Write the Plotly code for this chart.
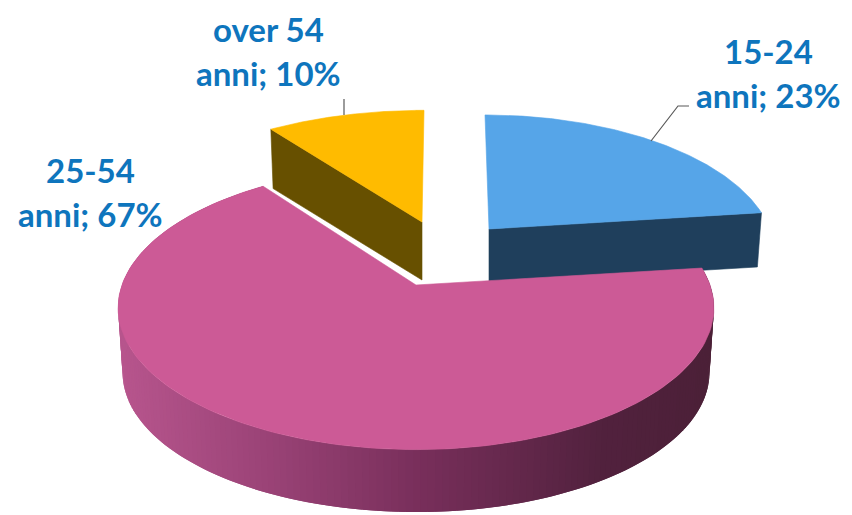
import numpy as np
import plotly.graph_objects as go

categories = ["15-24 anni", "25-54 anni", "over 54 anni"]
values = [23, 67, 10]
top_colors = ["#56A5E8", "#CC5A96", "#FFBB00"]
side_colors = ["#1F3F5C", None, "#675000"]

# Apex of each exploded slice and its scale on the page
apex = [(489, 229), (416, 285), (422, 222)]
scale = [(0.955, 0.96), (1.0, 1.0), (1.0, 0.94)]
shear = [0.035, 0.0, -0.018]
drop = [54.0, 65.0, 58.0]
R, S, K = 294.0, 138.0, 0.1615
SHRINK = 0.985

line_one = ["15-24", "25-54", "over 54"]
line_two = ["anni; {}%", "anni; {}%", "anni; {}%"]
label_x = [768, 90, 268]
label_y = [51, 170, 29]
LINE_GAP = 44
LABEL_COLOR = "#0E75BD"
FONT = "Lato"
FONT_SIZE = 33


def project(i, deg, rad=1.0, lower=False):
    t = np.radians(deg)
    u, v = rad * np.sin(t), rad * np.cos(t)
    w = 1 + K * v
    sx, sy = scale[i]
    y = -S * sy * v / w
    x = R * sx * u / w + shear[i] * y
    if lower:
        x = x * SHRINK
        y = y * SHRINK + drop[i]
    return apex[i][0] + x, apex[i][1] + y


def poly(fig, x, y, color, width=0.6):
    fig.add_trace(go.Scatter(
        x=list(x), y=list(y), mode="lines", fill="toself", fillcolor=color,
        line=dict(color=color, width=width), hoverinfo="skip", showlegend=False))


def shade(x):
    stops_x = [118, 260, 420, 600, 714]
    r = np.interp(x, stops_x, [0xB8, 0x9C, 0x78, 0x52, 0x4C])
    g = np.interp(x, stops_x, [0x56, 0x44, 0x2F, 0x22, 0x20])
    b = np.interp(x, stops_x, [0x8E, 0x78, 0x5B, 0x3E, 0x38])
    return f"rgb({int(r)},{int(g)},{int(b)})"


fig = go.Figure()
cum = np.concatenate([[0], np.cumsum(values)]) * 360 / sum(values)
bounds = [(cum[k], cum[k + 1]) for k in range(len(values))]

# Flat cut faces of the blue and yellow slices
for i in (0, 2):
    a0, a1 = bounds[i]
    face = a0 if i == 2 else a1
    p0 = project(i, face, 0)
    p1 = project(i, face, 1)
    q1 = project(i, face, 1, True)
    q0 = project(i, face, 0, True)
    poly(fig, [p0[0], p1[0], q1[0], q0[0], p0[0]],
         [p0[1], p1[1], q1[1], q0[1], p0[1]], side_colors[i])

# Curved wall of the large slice, shaded in overlapping strips so no seams show
a0, a1 = bounds[1]
edges = np.linspace(a0, a1, 201)
for n in range(len(edges) - 1):
    ts = np.array([edges[n], edges[min(n + 2, len(edges) - 1)]])
    xt, yt = project(1, ts)
    xb, yb = project(1, ts, 1, True)
    xs = [xt[0], xt[1], xb[1], xb[0], xt[0]]
    ys = [yt[0], yt[1], yb[1], yb[0], yt[0]]
    poly(fig, xs, ys, shade(float(np.mean(xs))), width=0)

# Top faces
for i, (a0, a1) in enumerate(bounds):
    ts = np.linspace(a0, a1, 160)
    ax, ay = project(i, ts)
    cx, cy = project(i, 0.0, 0)
    poly(fig, [cx, *ax, cx], [cy, *ay, cy], top_colors[i])

for i in range(len(values)):
    fig.add_annotation(x=label_x[i], y=label_y[i], text=f"<b>{line_one[i]}</b>", showarrow=False,
                       font=dict(family=FONT, size=FONT_SIZE, color=LABEL_COLOR))
    fig.add_annotation(x=label_x[i], y=label_y[i] + LINE_GAP,
                       text=f"<b>{line_two[i].format(values[i])}</b>", showarrow=False,
                       font=dict(family=FONT, size=FONT_SIZE, color=LABEL_COLOR))

# Leader lines
fig.add_trace(go.Scatter(x=[651, 678, 689], y=[141, 106, 106], mode="lines",
                         line=dict(color="#595959", width=1.2), hoverinfo="skip", showlegend=False))
fig.add_trace(go.Scatter(x=[344, 344], y=[115, 99], mode="lines",
                         line=dict(color="#595959", width=1.2), hoverinfo="skip", showlegend=False))

fig.update_layout(
    width=852, height=515, margin=dict(l=0, r=0, t=0, b=0),
    paper_bgcolor="white", plot_bgcolor="white", showlegend=False,
    xaxis=dict(range=[0, 852], visible=False, fixedrange=True),
    yaxis=dict(range=[515, 0], visible=False, fixedrange=True),
)
fig.write_html("out.html", config=dict(displayModeBar=False),
               post_script="document.body.style.margin='0';document.documentElement.style.overflow='hidden';")
